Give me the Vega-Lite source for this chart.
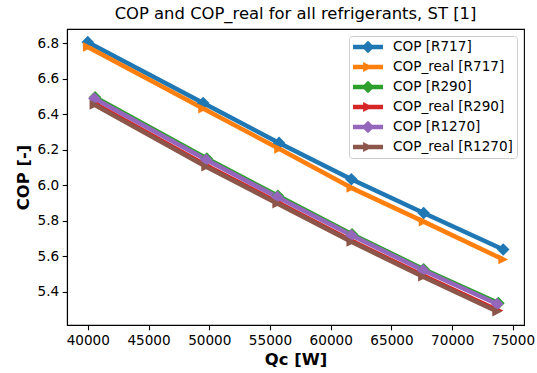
{
  "$schema": "https://vega.github.io/schema/vega-lite/v6.json",
  "autosize": "none",
  "width": 457,
  "height": 296,
  "padding": {"left": 67, "top": 29, "right": 13, "bottom": 48},
  "background": "white",
  "title": {
    "text": "COP and COP_real for all refrigerants, ST [1]",
    "font": "DejaVu Sans",
    "fontSize": 16.4,
    "fontWeight": "normal",
    "color": "black",
    "offset": 7
  },
  "config": {
    "view": {"stroke": "black", "strokeWidth": 1.1},
    "axis": {
      "labelFont": "DejaVu Sans",
      "labelFontSize": 13.6,
      "labelColor": "black",
      "titleFont": "DejaVu Sans",
      "titleFontSize": 16.4,
      "titleFontWeight": "bold",
      "titleColor": "black",
      "domainColor": "black",
      "domainWidth": 1.1,
      "tickColor": "black",
      "tickWidth": 1.1,
      "tickSize": 4.8,
      "labelPadding": 3.5,
      "grid": false
    },
    "legend": {
      "labelFont": "DejaVu Sans",
      "labelFontSize": 13.6,
      "labelColor": "black"
    }
  },
  "data": {
    "values": [
      {"series": "COP [R717]", "kind": "COP", "Qc": 40000, "COP": 6.805},
      {"series": "COP [R717]", "kind": "COP", "Qc": 49500, "COP": 6.462},
      {"series": "COP [R717]", "kind": "COP", "Qc": 55750, "COP": 6.238},
      {"series": "COP [R717]", "kind": "COP", "Qc": 61700, "COP": 6.033},
      {"series": "COP [R717]", "kind": "COP", "Qc": 67650, "COP": 5.843},
      {"series": "COP [R717]", "kind": "COP", "Qc": 74200, "COP": 5.638},
      {"series": "COP_real [R717]", "kind": "COP_real", "Qc": 40000, "COP": 6.778},
      {"series": "COP_real [R717]", "kind": "COP_real", "Qc": 49500, "COP": 6.431},
      {"series": "COP_real [R717]", "kind": "COP_real", "Qc": 55750, "COP": 6.205},
      {"series": "COP_real [R717]", "kind": "COP_real", "Qc": 61700, "COP": 5.985},
      {"series": "COP_real [R717]", "kind": "COP_real", "Qc": 67650, "COP": 5.795},
      {"series": "COP_real [R717]", "kind": "COP_real", "Qc": 74200, "COP": 5.582},
      {"series": "COP [R290]", "kind": "COP", "Qc": 40600, "COP": 6.495},
      {"series": "COP [R290]", "kind": "COP", "Qc": 49800, "COP": 6.150},
      {"series": "COP [R290]", "kind": "COP", "Qc": 55650, "COP": 5.940},
      {"series": "COP [R290]", "kind": "COP", "Qc": 61750, "COP": 5.724},
      {"series": "COP [R290]", "kind": "COP", "Qc": 67650, "COP": 5.527},
      {"series": "COP [R290]", "kind": "COP", "Qc": 73800, "COP": 5.336},
      {"series": "COP_real [R290]", "kind": "COP_real", "Qc": 40600, "COP": 6.458},
      {"series": "COP_real [R290]", "kind": "COP_real", "Qc": 49800, "COP": 6.110},
      {"series": "COP_real [R290]", "kind": "COP_real", "Qc": 55650, "COP": 5.903},
      {"series": "COP_real [R290]", "kind": "COP_real", "Qc": 61750, "COP": 5.686},
      {"series": "COP_real [R290]", "kind": "COP_real", "Qc": 67650, "COP": 5.490},
      {"series": "COP_real [R290]", "kind": "COP_real", "Qc": 73800, "COP": 5.294},
      {"series": "COP [R1270]", "kind": "COP", "Qc": 40550, "COP": 6.488},
      {"series": "COP [R1270]", "kind": "COP", "Qc": 49750, "COP": 6.143},
      {"series": "COP [R1270]", "kind": "COP", "Qc": 55600, "COP": 5.933},
      {"series": "COP [R1270]", "kind": "COP", "Qc": 61700, "COP": 5.718},
      {"series": "COP [R1270]", "kind": "COP", "Qc": 67600, "COP": 5.521},
      {"series": "COP [R1270]", "kind": "COP", "Qc": 73700, "COP": 5.331},
      {"series": "COP_real [R1270]", "kind": "COP_real", "Qc": 40550, "COP": 6.452},
      {"series": "COP_real [R1270]", "kind": "COP_real", "Qc": 49750, "COP": 6.104},
      {"series": "COP_real [R1270]", "kind": "COP_real", "Qc": 55600, "COP": 5.897},
      {"series": "COP_real [R1270]", "kind": "COP_real", "Qc": 61700, "COP": 5.681},
      {"series": "COP_real [R1270]", "kind": "COP_real", "Qc": 67600, "COP": 5.485},
      {"series": "COP_real [R1270]", "kind": "COP_real", "Qc": 73700, "COP": 5.289}
    ]
  },
  "encoding": {
    "x": {
      "field": "Qc",
      "type": "quantitative",
      "title": "Qc [W]",
      "scale": {"domain": [38290, 75910], "nice": false, "zero": false},
      "axis": {"values": [40000, 45000, 50000, 55000, 60000, 65000, 70000, 75000], "format": "d", "titlePadding": 5, "labelFlush": false}
    },
    "y": {
      "field": "COP",
      "type": "quantitative",
      "title": "COP [-]",
      "scale": {"domain": [5.213, 6.879], "nice": false, "zero": false},
      "axis": {"values": [5.4, 5.6, 5.8, 6.0, 6.2, 6.4, 6.6, 6.8], "format": ".1f", "titlePadding": 6, "labelFlush": false}
    },
    "color": {
      "field": "series",
      "type": "nominal",
      "sort": null,
      "scale": {
        "domain": ["COP [R717]", "COP_real [R717]", "COP [R290]", "COP_real [R290]", "COP [R1270]", "COP_real [R1270]"],
        "range": ["#1f77b4", "#ff7f0e", "#2ca02c", "#d62728", "#9467bd", "#8c564b"]
      },
      "legend": {
        "title": null,
        "orient": "top-right",
        "offset": 7,
        "padding": 4,
        "strokeColor": "#cccccc",
        "fillColor": "rgba(255,255,255,0.8)",
        "cornerRadius": 3,
        "symbolSize": 196,
        "symbolStrokeWidth": 0,
        "rowPadding": 6,
        "labelOffset": 26,
        "encode": {
          "symbols": {
            "update": {
              "shape": {"signal": "indexof(datum.value, 'real') >= 0 ? 'M-1,-0.32L3.286,-0.32L3.286,0.32L-1,0.32Z M0.443,-0.7L1.843,0L0.443,0.7Z' : 'M-1,-0.32L3.286,-0.32L3.286,0.32L-1,0.32Z M0.243,0L1.143,-0.9L2.043,0L1.143,0.9Z'"},
              "fill": {"scale": "color", "field": "value"},
              "stroke": {"value": "transparent"},
              "strokeWidth": {"value": 0},
              "opacity": {"value": 1}
            }
          }
        }
      }
    }
  },
  "layer": [
    {
      "mark": {"type": "line", "strokeWidth": 4.5, "strokeCap": "butt", "strokeJoin": "round"}
    },
    {
      "mark": {"type": "point", "filled": true, "opacity": 1, "size": 159, "strokeWidth": 0},
      "encoding": {
        "shape": {
          "field": "kind",
          "type": "nominal",
          "scale": {"domain": ["COP", "COP_real"], "range": ["M0,-1L1,0L0,1L-1,0Z", "M0.78,0L-0.78,0.78L-0.78,-0.78Z"]},
          "legend": null
        }
      }
    }
  ]
}
